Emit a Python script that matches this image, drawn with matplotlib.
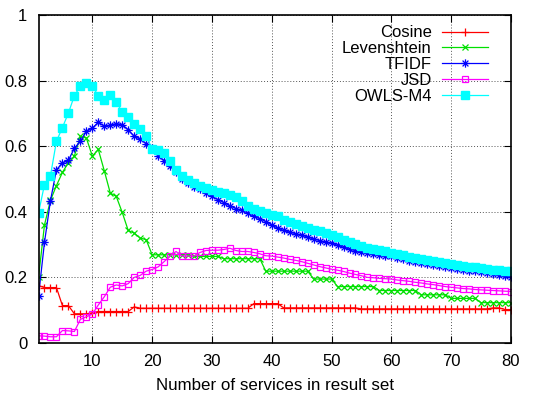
import matplotlib
matplotlib.use("Agg")
import matplotlib.pyplot as plt
from matplotlib.path import Path

plt.rcParams['font.family'] = ['Liberation Sans', 'DejaVu Sans']

x = list(range(1, 81))

cosine = [0.175, 0.169, 0.169, 0.169, 0.114, 0.114, 0.089, 0.089, 0.089, 0.092,
          0.096, 0.096, 0.096, 0.096, 0.096, 0.096, 0.110, 0.106, 0.106, 0.106,
          0.106, 0.106, 0.106, 0.106, 0.106, 0.106, 0.106, 0.106, 0.106, 0.106,
          0.106, 0.106, 0.106, 0.106, 0.106, 0.106, 0.120, 0.120, 0.120, 0.120,
          0.120, 0.107, 0.107, 0.107, 0.107, 0.107, 0.107, 0.107, 0.107, 0.107,
          0.107, 0.107, 0.107, 0.107, 0.104, 0.104, 0.104, 0.104, 0.104, 0.104,
          0.104, 0.104, 0.104, 0.104, 0.104, 0.104, 0.104, 0.104, 0.104, 0.104,
          0.104, 0.104, 0.104, 0.104, 0.104, 0.104, 0.107, 0.107, 0.102, 0.102]

levenshtein = [0.200, 0.360, 0.435, 0.480, 0.520, 0.550, 0.570, 0.630, 0.625, 0.570,
               0.590, 0.525, 0.457, 0.447, 0.398, 0.343, 0.335, 0.320, 0.315, 0.269,
               0.269, 0.269, 0.269, 0.269, 0.269, 0.269, 0.264, 0.264, 0.264, 0.264,
               0.264, 0.257, 0.257, 0.257, 0.257, 0.257, 0.257, 0.257, 0.219, 0.219,
               0.219, 0.219, 0.219, 0.219, 0.219, 0.219, 0.195, 0.195, 0.195, 0.195,
               0.172, 0.172, 0.172, 0.172, 0.172, 0.172, 0.172, 0.160, 0.160, 0.160,
               0.160, 0.160, 0.160, 0.160, 0.147, 0.147, 0.147, 0.147, 0.147, 0.136,
               0.136, 0.136, 0.136, 0.136, 0.123, 0.123, 0.123, 0.123, 0.123, 0.123]

tfidf = [0.143, 0.307, 0.434, 0.528, 0.549, 0.557, 0.594, 0.615, 0.645, 0.655,
         0.673, 0.661, 0.664, 0.669, 0.666, 0.650, 0.630, 0.622, 0.608, 0.594,
         0.571, 0.556, 0.540, 0.520, 0.500, 0.488, 0.477, 0.471, 0.457, 0.447,
         0.437, 0.428, 0.418, 0.410, 0.404, 0.396, 0.386, 0.379, 0.370, 0.360,
         0.350, 0.343, 0.338, 0.333, 0.329, 0.323, 0.317, 0.312, 0.308, 0.304,
         0.298, 0.292, 0.286, 0.282, 0.278, 0.274, 0.271, 0.268, 0.266, 0.264,
         0.259, 0.255, 0.251, 0.246, 0.243, 0.240, 0.237, 0.234, 0.231, 0.228,
         0.226, 0.223, 0.220, 0.218, 0.215, 0.212, 0.210, 0.207, 0.205, 0.202]

jsd = [0.022, 0.021, 0.019, 0.019, 0.038, 0.037, 0.035, 0.072, 0.080, 0.088,
       0.116, 0.141, 0.170, 0.177, 0.174, 0.181, 0.200, 0.206, 0.219, 0.224,
       0.232, 0.248, 0.265, 0.279, 0.265, 0.265, 0.265, 0.276, 0.282, 0.283,
       0.283, 0.285, 0.289, 0.282, 0.279, 0.279, 0.276, 0.272, 0.266, 0.265,
       0.262, 0.259, 0.255, 0.252, 0.248, 0.243, 0.238, 0.233, 0.229, 0.225,
       0.222, 0.218, 0.213, 0.209, 0.205, 0.200, 0.199, 0.197, 0.196, 0.195,
       0.192, 0.190, 0.188, 0.185, 0.183, 0.180, 0.178, 0.175, 0.172, 0.170,
       0.168, 0.166, 0.165, 0.163, 0.162, 0.161, 0.160, 0.159, 0.158, 0.157]

owls = [0.396, 0.483, 0.510, 0.615, 0.657, 0.701, 0.754, 0.783, 0.793, 0.785,
        0.752, 0.742, 0.755, 0.735, 0.704, 0.688, 0.668, 0.653, 0.630, 0.592,
        0.589, 0.578, 0.556, 0.528, 0.508, 0.498, 0.487, 0.480, 0.472, 0.465,
        0.460, 0.457, 0.452, 0.446, 0.434, 0.418, 0.410, 0.401, 0.396, 0.391,
        0.386, 0.375, 0.368, 0.363, 0.358, 0.350, 0.345, 0.340, 0.335, 0.328,
        0.322, 0.315, 0.309, 0.302, 0.296, 0.291, 0.288, 0.284, 0.279, 0.275,
        0.271, 0.267, 0.263, 0.259, 0.256, 0.252, 0.249, 0.246, 0.244, 0.242,
        0.239, 0.236, 0.233, 0.231, 0.229, 0.226, 0.224, 0.222, 0.220, 0.218]

labels = ['Cosine', 'Levenshtein', 'TFIDF', 'JSD', 'OWLS-M4']
xticks = [10, 20, 30, 40, 50, 60, 70, 80]
yticks = [0, 0.2, 0.4, 0.6, 0.8, 1]
ytick_labels = ['0', '0.2', '0.4', '0.6', '0.8', '1']

# gnuplot-style star: plus + cross
star = Path([(-1, 0), (1, 0), (0, -1), (0, 1), (-0.7, -0.7), (0.7, 0.7), (-0.7, 0.7), (0.7, -0.7)],
            [Path.MOVETO, Path.LINETO] * 4)

fig = plt.figure(figsize=(5.37, 3.94), dpi=100)
ax = fig.add_axes([38.5 / 537, 1 - 343 / 394, (511 - 38.5) / 537, (343 - 15) / 394])

lw = 0.9
ax.plot(x, cosine, color='#ff0000', lw=lw, marker='+', ms=6, mew=0.9, label=labels[0])
ax.plot(x, levenshtein, color='#00e000', lw=lw, marker='x', ms=5, mew=0.9, label=labels[1])
ax.plot(x, tfidf, color='#0000ff', lw=lw, marker=star, ms=6, mew=0.9, label=labels[2])
ax.plot(x, jsd, color='#ff00ff', lw=lw, marker='s', ms=5, mfc='none', mew=0.9, label=labels[3])
ax.plot(x, owls, color='#00ffff', lw=lw, marker='s', ms=5.5, mfc='#00ffff', mec='#00ffff', label=labels[4])

ax.set_xlim(1, 80)
ax.set_ylim(0, 1)
ax.set_xticks(xticks)
ax.set_yticks(yticks)
ax.set_yticklabels(ytick_labels)
ax.tick_params(direction='in', top=True, right=True, length=5, width=0.8, labelsize=12, pad=8)
ax.grid(True, linestyle=(0, (1, 2)), color='#555555', lw=0.7)
for s in ax.spines.values():
    s.set_linewidth(1.2)
ax.set_xlabel('Number of services in result set', fontsize=12.2, labelpad=6.5)

leg = ax.legend(loc='upper right', frameon=False, markerfirst=False, fontsize=12,
                handlelength=2.8, labelspacing=0.05, borderaxespad=0.3, handletextpad=0.6,
                bbox_to_anchor=(0.977, 1.004))

fig.savefig('out.png', dpi=100)
